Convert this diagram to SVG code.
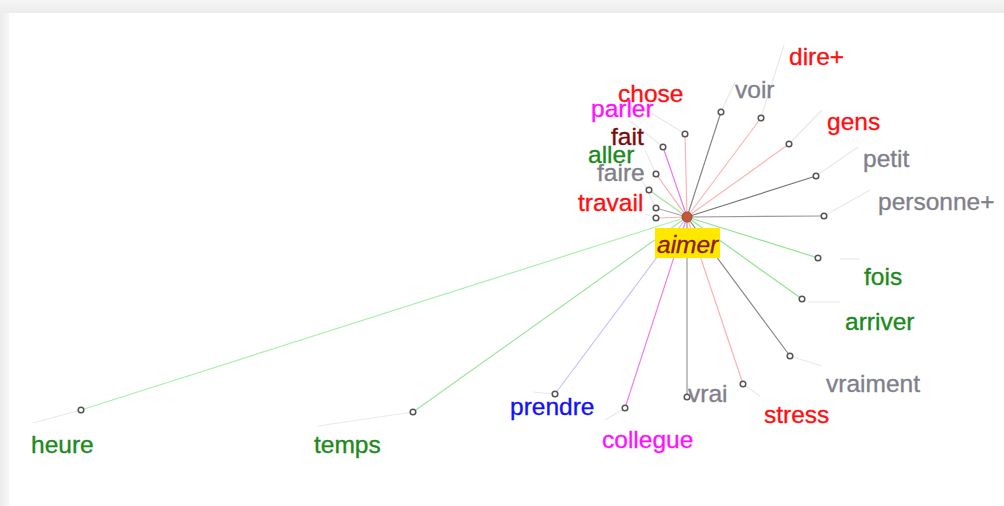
<svg xmlns="http://www.w3.org/2000/svg" width="1004" height="506" viewBox="0 0 1004 506">
<defs>
<linearGradient id="lg" x1="0" y1="0" x2="1" y2="0"><stop offset="0" stop-color="#ebebeb"/><stop offset="1" stop-color="#f7f7f7"/></linearGradient>
<linearGradient id="tg" x1="0" y1="0" x2="0" y2="1"><stop offset="0" stop-color="#f6f6f6"/><stop offset="1" stop-color="#ececec"/></linearGradient>
</defs>
<style>
.l{fill:none;stroke-width:1.2}
.ld{fill:none;stroke:#e9e9e9;stroke-width:1.2}
.n{fill:#fff;stroke:#555;stroke-width:1.5}
text{font-family:"Liberation Sans",Arial,sans-serif;font-size:24.5px;stroke-width:0.35px}
.red{fill:#ff1010;stroke:#ff1010}.mag{fill:#ff10ff;stroke:#ff10ff}.dred{fill:#7a0a0a;stroke:#7a0a0a}.grn{fill:#1a8a1a;stroke:#1a8a1a}.gry{fill:#7f7f8a;stroke:#7f7f8a}.blu{fill:#1010ff;stroke:#1010ff}
</style>
<rect width="1004" height="506" fill="#ffffff"/>
<rect width="1004" height="13" fill="url(#tg)"/>
<rect y="13" width="9" height="493" fill="url(#lg)"/>
<g id="connectors">
<g class="leaders">
<line class="ld" x1="685" y1="134" x2="640" y2="106"/>
<line class="ld" x1="663" y1="147" x2="630" y2="121"/>
<line class="ld" x1="656" y1="174" x2="645" y2="150"/>
<line class="ld" x1="649" y1="190" x2="632" y2="168"/>
<line class="ld" x1="656" y1="208" x2="645" y2="186"/>
<line class="ld" x1="656" y1="218" x2="645" y2="214"/>
<line class="ld" x1="721" y1="112" x2="735" y2="82"/>
<line class="ld" x1="761" y1="118" x2="784" y2="45"/>
<line class="ld" x1="789" y1="144" x2="822" y2="110"/>
<line class="ld" x1="816" y1="176" x2="858" y2="147"/>
<line class="ld" x1="824" y1="216" x2="870" y2="190"/>
<line class="ld" x1="840" y1="259" x2="860" y2="259"/>
<line class="ld" x1="808" y1="302" x2="840" y2="302"/>
<line class="ld" x1="790" y1="356" x2="822" y2="366"/>
<line class="ld" x1="743" y1="384" x2="760" y2="396"/>
<line class="ld" x1="625" y1="408" x2="605" y2="420"/>
<line class="ld" x1="555" y1="394" x2="533" y2="392"/>
<line class="ld" x1="413" y1="412" x2="318" y2="426"/>
<line class="ld" x1="81" y1="410" x2="33" y2="423"/>
</g>
<g class="edges">
<line class="l" stroke="#ffb4b4" x1="687" y1="217" x2="685" y2="134"/>
<line class="l" stroke="#e97ae9" x1="687" y1="217" x2="663" y2="147"/>
<line class="l" stroke="#f0b0a8" x1="687" y1="217" x2="656" y2="174"/>
<line class="l" stroke="#9fe69f" x1="687" y1="217" x2="649" y2="190"/>
<line class="l" stroke="#a8a8a8" x1="687" y1="217" x2="656" y2="208"/>
<line class="l" stroke="#f0b4b4" x1="687" y1="217" x2="656" y2="218"/>
<line class="l" stroke="#888" x1="687" y1="217" x2="721" y2="112"/>
<line class="l" stroke="#ffb4b4" x1="687" y1="217" x2="761" y2="118"/>
<line class="l" stroke="#ffb4b4" x1="687" y1="217" x2="789" y2="144"/>
<line class="l" stroke="#777" x1="687" y1="217" x2="816" y2="176"/>
<line class="l" stroke="#999" x1="687" y1="217" x2="824" y2="216"/>
<line class="l" stroke="#8fe68f" x1="687" y1="217" x2="818" y2="258"/>
<line class="l" stroke="#8fe68f" x1="687" y1="217" x2="802" y2="299"/>
<line class="l" stroke="#888" x1="687" y1="217" x2="790" y2="356"/>
<line class="l" stroke="#ffb0b0" x1="687" y1="217" x2="743" y2="384"/>
<line class="l" stroke="#999" x1="687" y1="217" x2="687" y2="397"/>
<line class="l" stroke="#f080f0" x1="687" y1="217" x2="625" y2="408"/>
<line class="l" stroke="#c4c4ff" x1="687" y1="217" x2="555" y2="394"/>
<line class="l" stroke="#9fe69f" x1="687" y1="217" x2="413" y2="412"/>
<line class="l" stroke="#aaf0aa" x1="687" y1="217" x2="81" y2="410"/>
</g>
</g>
<g id="n-aimer"><circle cx="687" cy="217" r="5" fill="#c0583a" stroke="#a04a30" stroke-width="1"/><rect x="655" y="228" width="65" height="30" fill="#ffe800"/><text x="657" y="253" fill="#8b1a00" stroke="#8b1a00" font-style="italic">aimer</text></g>
<g id="n-chose"><circle class="n" cx="685" cy="134" r="2.8"/><text class="red" x="618" y="102">chose</text></g>
<g id="n-parler"><circle class="n" cx="663" cy="147" r="2.8"/><text class="mag" x="591" y="117">parler</text></g>
<g id="n-fait"><circle class="n" cx="656" cy="174" r="2.8"/><text class="dred" x="611" y="145">fait</text></g>
<g id="n-aller"><circle class="n" cx="649" cy="190" r="2.8"/><text class="grn" x="588" y="163">aller</text></g>
<g id="n-faire"><circle class="n" cx="656" cy="208" r="2.8"/><text class="gry" x="597" y="181">faire</text></g>
<g id="n-travail"><circle class="n" cx="656" cy="218" r="2.8"/><text class="red" x="578" y="211">travail</text></g>
<g id="n-voir"><circle class="n" cx="721" cy="112" r="2.8"/><text class="gry" x="735" y="98">voir</text></g>
<g id="n-dire"><circle class="n" cx="761" cy="118" r="2.8"/><text class="red" x="789" y="65">dire+</text></g>
<g id="n-gens"><circle class="n" cx="789" cy="144" r="2.8"/><text class="red" x="827" y="130">gens</text></g>
<g id="n-petit"><circle class="n" cx="816" cy="176" r="2.8"/><text class="gry" x="863" y="167">petit</text></g>
<g id="n-personne"><circle class="n" cx="824" cy="216" r="2.8"/><text class="gry" x="878" y="210">personne+</text></g>
<g id="n-fois"><circle class="n" cx="818" cy="258" r="2.8"/><text class="grn" x="864" y="285">fois</text></g>
<g id="n-arriver"><circle class="n" cx="802" cy="299" r="2.8"/><text class="grn" x="845" y="330">arriver</text></g>
<g id="n-vraiment"><circle class="n" cx="790" cy="356" r="2.8"/><text class="gry" x="826" y="392">vraiment</text></g>
<g id="n-stress"><circle class="n" cx="743" cy="384" r="2.8"/><text class="red" x="764" y="423">stress</text></g>
<g id="n-vrai"><circle class="n" cx="687" cy="397" r="2.8"/><text class="gry" x="688" y="402">vrai</text></g>
<g id="n-collegue"><circle class="n" cx="625" cy="408" r="2.8"/><text class="mag" x="602" y="448">collegue</text></g>
<g id="n-prendre"><circle class="n" cx="555" cy="394" r="2.8"/><text class="blu" x="510" y="415">prendre</text></g>
<g id="n-temps"><circle class="n" cx="413" cy="412" r="2.8"/><text class="grn" x="314" y="453">temps</text></g>
<g id="n-heure"><circle class="n" cx="81" cy="410" r="2.8"/><text class="grn" x="31" y="453">heure</text></g>
</svg>
